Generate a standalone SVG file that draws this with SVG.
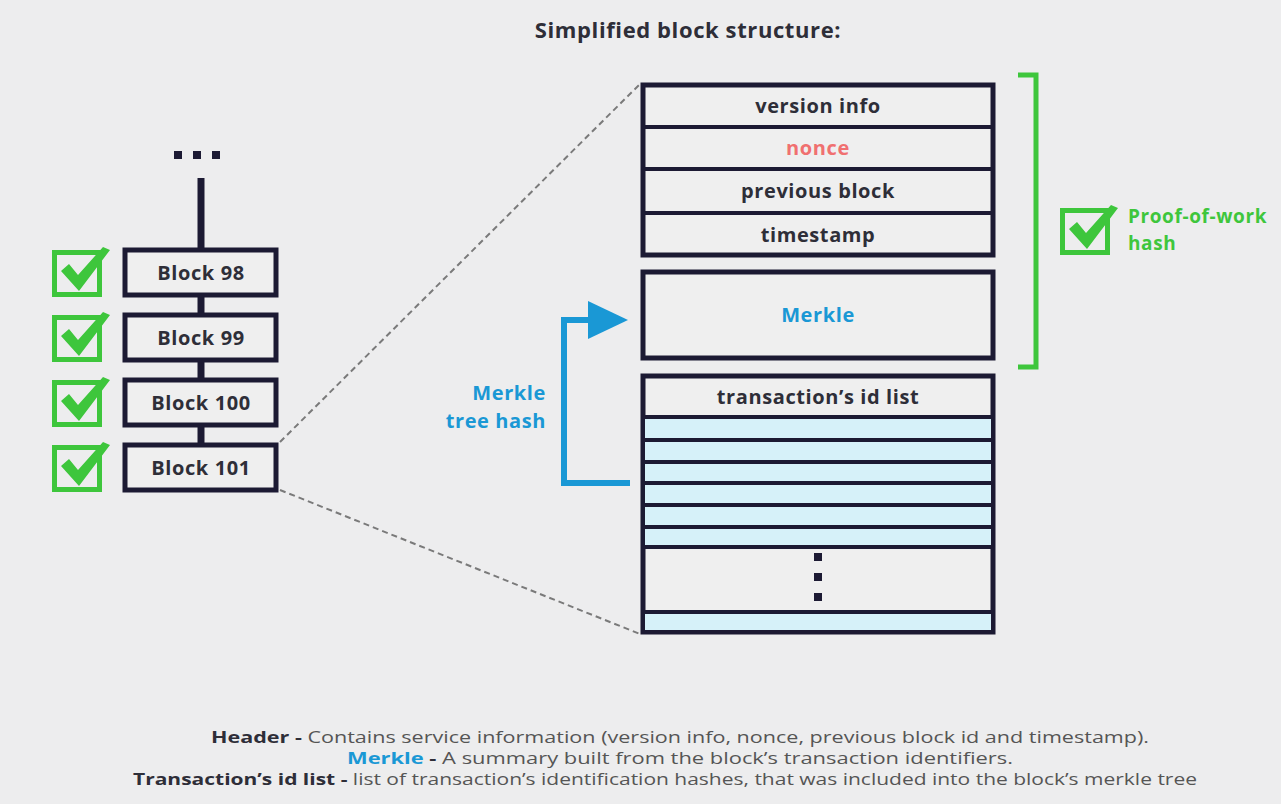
<svg xmlns="http://www.w3.org/2000/svg" width="1281" height="804" viewBox="0 0 1281 804">
<style>
.lbl{font-family:"Open Sans","Noto Sans",sans-serif;font-weight:700;font-size:20px;letter-spacing:0.6px;fill:#2e2e38;text-anchor:middle}
.box{fill:#efefef;stroke:#1c1a33;stroke-width:5}
.div{stroke:#1c1a33;stroke-width:4}
.row{fill:#d6f1f9}
.dash{stroke:#7a7a7a;stroke-width:2;stroke-dasharray:6 4;fill:none}
.foot{font-family:"Open Sans","Noto Sans",sans-serif;font-size:16px;fill:#555;text-anchor:middle}
.b{font-weight:700;fill:#2e2e38}
</style>
<defs>
<g id="chk">
<rect x="2.5" y="2.5" width="45" height="42" fill="none" stroke="#3ec63c" stroke-width="5"/>
<polygon points="9,21 17,14 26,25 51,-3 58,0 27,41" fill="#3ec63c"/>
</g>
</defs>
<rect width="1281" height="804" fill="#ededee"/>
<text x="688" y="38" class="lbl" style="font-size:22px">Simplified block structure:</text>

<g id="connectors">
<line x1="280" y1="442" x2="640" y2="84" class="dash"/>
<line x1="280" y1="490" x2="640" y2="634" class="dash"/>
<line x1="201" y1="178" x2="201" y2="250" stroke="#1c1a33" stroke-width="7"/>
<line x1="201" y1="295" x2="201" y2="315" stroke="#1c1a33" stroke-width="7"/>
<line x1="201" y1="360" x2="201" y2="380" stroke="#1c1a33" stroke-width="7"/>
<line x1="201" y1="425" x2="201" y2="445" stroke="#1c1a33" stroke-width="7"/>
<polyline points="630,483 564,483 564,320 592,320" fill="none" stroke="#1a98d5" stroke-width="6"/>
<polygon points="588,301 588,339 628,320" fill="#1a98d5"/>
<polyline points="1018,75 1036,75 1036,367 1018,367" fill="none" stroke="#3ec63c" stroke-width="5"/>
</g>

<g id="dots">
<rect x="174" y="151" width="8" height="8" fill="#1c1a33"/>
<rect x="193" y="151" width="8" height="8" fill="#1c1a33"/>
<rect x="212" y="151" width="8" height="8" fill="#1c1a33"/>
</g>

<g id="block98"><rect x="125" y="250" width="151" height="45" class="box"/><text x="201" y="280" class="lbl">Block 98</text><use href="#chk" x="52" y="250"/></g>
<g id="block99"><rect x="125" y="315" width="151" height="45" class="box"/><text x="201" y="345" class="lbl">Block 99</text><use href="#chk" x="52" y="315"/></g>
<g id="block100"><rect x="125" y="380" width="151" height="45" class="box"/><text x="201" y="410" class="lbl">Block 100</text><use href="#chk" x="52" y="380"/></g>
<g id="block101"><rect x="125" y="445" width="151" height="45" class="box"/><text x="201" y="475" class="lbl">Block 101</text><use href="#chk" x="52" y="445"/></g>

<g id="header">
<rect x="643" y="85" width="350" height="170" class="box"/>
<line x1="643" y1="127" x2="993" y2="127" class="div"/>
<line x1="643" y1="169" x2="993" y2="169" class="div"/>
<line x1="643" y1="213" x2="993" y2="213" class="div"/>
<text x="818" y="113" class="lbl">version info</text>
<text x="818" y="155" class="lbl" style="fill:#f07070">nonce</text>
<text x="818" y="198" class="lbl">previous block</text>
<text x="818" y="242" class="lbl">timestamp</text>
</g>

<g id="merkle">
<rect x="643" y="272" width="350" height="86" class="box"/>
<text x="818" y="322" class="lbl" style="fill:#1a98d5">Merkle</text>
</g>

<g id="txlist">
<rect x="643" y="376" width="350" height="256" class="box"/>
<rect x="645" y="417" width="346" height="130" class="row"/>
<rect x="645" y="612" width="346" height="18" class="row"/>
<line x1="643" y1="417" x2="993" y2="417" class="div"/>
<line x1="643" y1="440" x2="993" y2="440" class="div"/>
<line x1="643" y1="462" x2="993" y2="462" class="div"/>
<line x1="643" y1="483" x2="993" y2="483" class="div"/>
<line x1="643" y1="505" x2="993" y2="505" class="div"/>
<line x1="643" y1="527" x2="993" y2="527" class="div"/>
<line x1="643" y1="547" x2="993" y2="547" class="div"/>
<line x1="643" y1="612" x2="993" y2="612" class="div"/>
<text x="818" y="404" class="lbl">transaction’s id list</text>
<rect x="814" y="553" width="8" height="8" fill="#1c1a33"/>
<rect x="814" y="573" width="8" height="8" fill="#1c1a33"/>
<rect x="814" y="593" width="8" height="8" fill="#1c1a33"/>
</g>

<g id="merkle-label">
<text class="lbl" style="fill:#1a98d5;text-anchor:end"><tspan x="546" y="400">Merkle</tspan><tspan x="546" y="428">tree hash</tspan></text>
</g>

<g id="pow">
<use href="#chk" x="1060" y="208"/>
<text class="lbl" style="fill:#3ec63c;text-anchor:start;font-size:19px"><tspan x="1128" y="223">Proof-of-work</tspan><tspan x="1128" y="250">hash</tspan></text>
</g>

<g id="legend">
<text class="foot" x="680" y="743" textLength="938" lengthAdjust="spacingAndGlyphs"><tspan class="b">Header -</tspan> Contains service information (version info, nonce, previous block id and timestamp).</text>
<text class="foot" x="680" y="764" textLength="666" lengthAdjust="spacingAndGlyphs"><tspan class="b" style="fill:#1a98d5">Merkle</tspan><tspan class="b"> -</tspan> A summary built from the block’s transaction identifiers.</text>
<text class="foot" x="665" y="785" textLength="1064" lengthAdjust="spacingAndGlyphs"><tspan class="b">Transaction’s id list -</tspan> list of transaction’s identification hashes, that was included into the block’s merkle tree</text>
</g>
</svg>
